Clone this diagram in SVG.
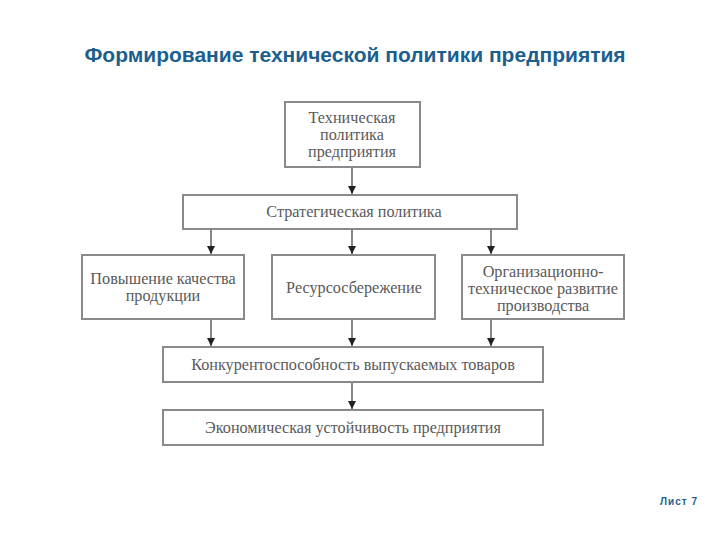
<svg xmlns="http://www.w3.org/2000/svg" width="720" height="540" viewBox="0 0 720 540">
<defs>
<marker id="ah" markerWidth="9" markerHeight="8" refX="8" refY="4" orient="auto" markerUnits="userSpaceOnUse">
<path d="M0,0 L8,4 L0,8 Z" fill="#222"/>
</marker>
<style>
.box{fill:#fff;stroke:#8a8a8a;stroke-width:2}
.t{font-family:"Liberation Serif",serif;font-size:16.2px;fill:#5a5a5a;text-anchor:middle}
.c{stroke:#444;stroke-width:1.3;fill:none;marker-end:url(#ah)}
.title{font-family:"Liberation Sans",sans-serif;font-weight:bold;font-size:21px;fill:#1c5f8e;text-anchor:middle}
</style>
</defs>
<rect width="720" height="540" fill="#fff"/>
<text class="title" x="355" y="62">Формирование технической политики предприятия</text>
<g id="connectors">
<path class="c" d="M352,167 V194"/>
<path class="c" d="M211,229 V254"/>
<path class="c" d="M352,229 V254"/>
<path class="c" d="M491,229 V254"/>
<path class="c" d="M211,319 V346"/>
<path class="c" d="M352,319 V346"/>
<path class="c" d="M491,319 V346"/>
<path class="c" d="M352,382 V409"/>
</g>
<g id="n1"><rect class="box" x="285" y="102" width="135" height="65"/>
<text class="t" x="352" y="123">Техническая</text>
<text class="t" x="352" y="140">политика</text>
<text class="t" x="352" y="157">предприятия</text></g>
<g id="n2"><rect class="box" x="183" y="195" width="334" height="34"/>
<text class="t" x="354" y="217">Стратегическая политика</text></g>
<g id="n3"><rect class="box" x="82" y="255" width="162" height="64"/>
<text class="t" x="163" y="284">Повышение качества</text>
<text class="t" x="163" y="301">продукции</text></g>
<g id="n4"><rect class="box" x="272" y="255" width="163" height="64"/>
<text class="t" x="354" y="293">Ресурсосбережение</text></g>
<g id="n5"><rect class="box" x="462" y="255" width="162" height="64"/>
<text class="t" x="543" y="277">Организационно-</text>
<text class="t" x="543" y="294">техническое развитие</text>
<text class="t" x="543" y="311">производства</text></g>
<g id="n6"><rect class="box" x="163" y="347" width="380" height="35"/>
<text class="t" x="353" y="370">Конкурентоспособность выпускаемых товаров</text></g>
<g id="n7"><rect class="box" x="163" y="410" width="380" height="35"/>
<text class="t" x="353" y="433">Экономическая устойчивость предприятия</text></g>
<text x="660" y="505" font-family="Liberation Sans,sans-serif" font-weight="bold" font-size="10" fill="#1c5f8e" letter-spacing="1">Лист 7</text>
</svg>
